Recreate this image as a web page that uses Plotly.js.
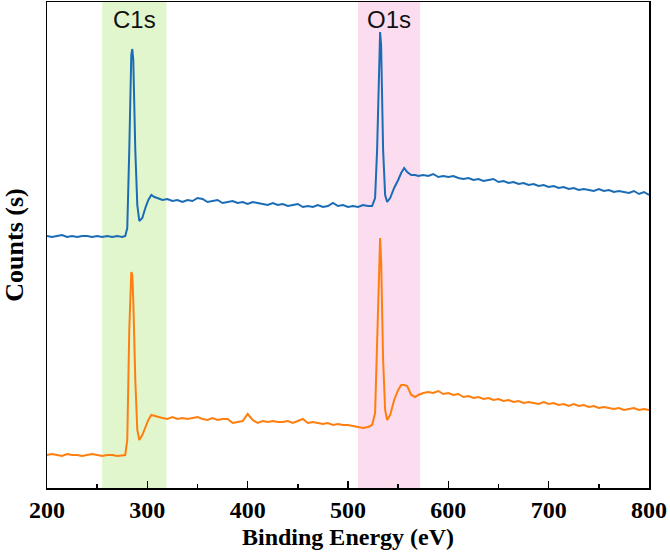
<!DOCTYPE html>
<html>
<head>
<meta charset="utf-8">
<script src="https://cdn.plot.ly/plotly-3.0.1.min.js"></script>
<style>html,body{margin:0;padding:0;background:#fff;}#chart{width:670px;height:557px;}</style>
</head>
<body>
<div id="chart"></div>
<script>
// Binding energy (eV)
const energy = [
  200,205,210,215,220,225,230,235,240,245,250,255,260,265,270,275,
  278,280,282,284,285,286,288,290,292,295,298,301,304,307,310,
  315,320,325,330,335,340,345,350,355,360,365,370,375,380,385,390,395,400,405,410,
  415,420,425,430,435,440,445,450,455,460,465,470,475,480,485,490,495,500,505,510,515,520,
  524,527,529,531,532,533,535,537,539,542,546,550,553,556,559,563,567,570,
  575,580,585,590,595,600,605,610,615,620,625,630,635,640,645,650,655,660,665,670,
  675,680,685,690,695,700,705,710,715,720,725,730,735,740,745,750,755,760,765,770,
  775,780,785,790,795,800
];
// Counts (arbitrary, stacked) - upper spectrum (blue)
const countsBlue = [
  252,251,252,253,251,252,251,252,252,251,252,251,252,251,252,251,
  252,260,338,433,439,428,338,283,267,270,280,288,293,291,290,
  288,289,287,288,286,288,287,290,289,286,287,288,285,286,287,285,286,284,286,285,
  284,283,285,283,284,282,283,284,281,282,281,283,281,282,285,282,283,281,282,281,283,282,
  282,290,338,438,456,443,338,293,286,290,300,308,315,320,316,313,313,312,
  313,312,314,311,312,311,312,310,309,310,308,309,307,308,309,306,307,305,306,304,
  305,303,304,302,303,301,302,300,301,299,300,298,299,298,297,299,297,298,296,297,
  296,295,297,294,296,293
];
// Counts (arbitrary, stacked) - lower spectrum (orange)
const countsOrange = [
  33,34,33,32,34,33,33,32,33,34,33,32,33,33,32,33,
  33,48,158,216,213,188,108,58,48,53,60,68,73,72,71,
  70,69,71,69,70,69,70,71,69,68,70,68,69,69,65,66,67,74,68,65,
  67,66,67,66,66,67,65,67,69,65,66,65,64,65,63,64,63,63,62,61,60,61,
  63,75,148,228,250,228,128,78,68,73,88,98,103,103,102,93,91,93,
  95,96,95,97,94,95,93,94,91,92,90,91,89,90,88,89,87,88,86,87,
  85,86,85,84,86,84,85,83,84,82,84,82,83,81,82,80,81,80,79,80,
  78,79,80,78,79,78
];
// Highlighted regions
const regionLabels = ["C1s", "O1s"];
const regionStart = [255, 510];
const regionEnd = [319, 572];
const regionColors = ["rgba(221,245,196,0.85)", "rgba(252,215,236,0.85)"];

const xTickVals = [200,300,400,500,600,700,800];

const traces = [
  {x: energy, y: countsBlue, type: 'scatter', mode: 'lines',
   line: {color: '#1a6cb5', width: 2}, showlegend: false, hoverinfo: 'x+y'},
  {x: energy, y: countsOrange, type: 'scatter', mode: 'lines',
   line: {color: '#ff7f0e', width: 2}, showlegend: false, hoverinfo: 'x+y'}
];

const shapes = regionLabels.map((_, i) => ({
  type: 'rect', xref: 'x', yref: 'paper', x0: regionStart[i], x1: regionEnd[i], y0: 0, y1: 1,
  fillcolor: regionColors[i], line: {width: 0}, layer: 'below'
}));
const annotations = regionLabels.map((t, i) => ({
  text: t, xref: 'x', yref: 'paper', x: (regionStart[i] + regionEnd[i]) / 2, y: 0.965,
  xanchor: 'center', yanchor: 'middle', showarrow: false,
  font: {family: 'Liberation Sans, Arial, sans-serif', size: 24, color: '#111'}
}));

const serif = 'Liberation Serif, Times New Roman, serif';
const layout = {
  width: 670, height: 557,
  margin: {l: 47, r: 21, t: 2, b: 69},
  paper_bgcolor: '#fff', plot_bgcolor: '#fff',
  showlegend: false,
  shapes: shapes,
  annotations: annotations,
  xaxis: {
    range: [200, 800], tickvals: xTickVals, ticktext: xTickVals.map(String),
    ticks: 'inside', ticklen: 7, tickwidth: 1.5, tickcolor: '#000',
    minor: {dtick: 50, ticks: 'inside', ticklen: 4, tickwidth: 1.5, tickcolor: '#000'},
    showline: true, linecolor: '#000', linewidth: 1.5, mirror: true,
    showgrid: false, zeroline: false,
    tickfont: {family: serif, size: 24, color: '#000', weight: 'bold'},
    title: {text: 'Binding Energy (eV)', standoff: 6,
            font: {family: serif, size: 24, color: '#000', weight: 'bold'}}
  },
  yaxis: {
    range: [0, 486], showticklabels: false, ticks: '',
    showline: true, linecolor: '#000', linewidth: 1.5, mirror: true,
    showgrid: false, zeroline: false,
    title: {text: 'Counts (s)', standoff: 14,
            font: {family: serif, size: 26, color: '#000', weight: 'bold'}}
  }
};

Plotly.newPlot('chart', traces, layout, {displayModeBar: false, staticPlot: true});
</script>
</body>
</html>
